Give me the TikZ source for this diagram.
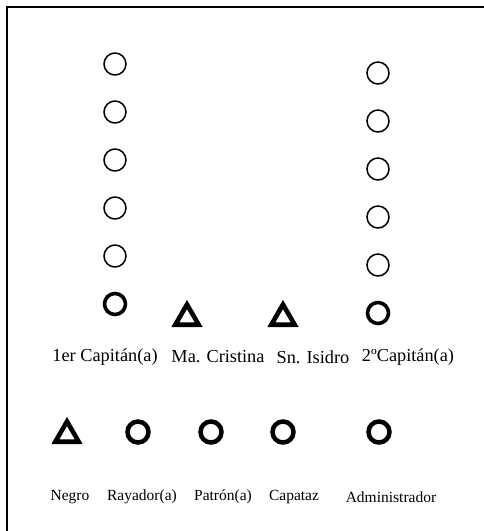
\documentclass[tikz,border=0pt]{standalone}
\usepackage{fontspec}
\setmainfont{Liberation Serif}
\usetikzlibrary{positioning,shapes.geometric}
\tikzset{
  hueco/.style={circle, draw=black, line width=1.5pt, minimum size=22pt, inner sep=0pt},
  cargo/.style={circle, draw=black, line width=3.6pt, minimum size=21pt, inner sep=0pt},
  cargob/.style={circle, draw=black, line width=4.5pt, minimum size=21pt, inner sep=0pt},
  tri/.style={regular polygon, regular polygon sides=3, draw=black, line width=4.6pt,
    minimum size=27pt, inner sep=0pt},
  etqa/.style={font=\fontsize{18.3}{20}\selectfont, inner sep=0pt},
  etqb/.style={font=\fontsize{15.5}{17}\selectfont, inner sep=0pt},
}
\begin{document}
\begin{tikzpicture}[x=1pt,y=-1pt]
  \useasboundingbox (0,0) rectangle (484,531);
  % marco
  \coordinate (mA) at (7,531);
  \coordinate (mB) at (7,7);
  \coordinate (mC) at (484,7);
  \draw[line width=2pt] (mA) -- (mB) -- (mC);
  % columnas de vacantes
  \foreach \k/\y in {1/64,2/112,3/160,4/208,5/256}
    \node[hueco] (izq\k) at (115,\y) {};
  \foreach \k/\y in {1/73,2/121,3/169,4/217,5/265}
    \node[hueco] (der\k) at (378,\y) {};
  % fila superior
  \node[cargo] (cap1) at (115,304) {};
  \node[tri] (cristina) at (187,318) {};
  \node[tri] (isidro) at (283,318) {};
  \node[cargo] (cap2) at (378,313) {};
  \node[etqa] (lcap1) at (105,357) {1er Capitán(a)};
  \node[etqa] (lcristina) at (218,357) {Ma. Cristina};
  \node[etqa] (lisidro) at (313,357) {Sn. Isidro};
  \node[etqa] (lcap2) at (408,357) {2ºCapitán(a)};
  % fila inferior
  \node[tri] (negro) at (67,435) {};
  \node[cargob] (rayador) at (138,432) {};
  \node[cargob] (patron) at (211,432) {};
  \node[cargob] (capataz) at (283,432) {};
  \node[cargob] (admin) at (379,432) {};
  \node[etqb] (lnegro) at (70,497) {Negro};
  \node[etqb] (lrayador) at (142,497) {Rayador(a)};
  \node[etqb] (lpatron) at (223,497) {Patrón(a)};
  \node[etqb] (lcapataz) at (294,497) {Capataz};
  \node[etqb] (ladmin) at (391,497) {Administrador};
\end{tikzpicture}
\end{document}
